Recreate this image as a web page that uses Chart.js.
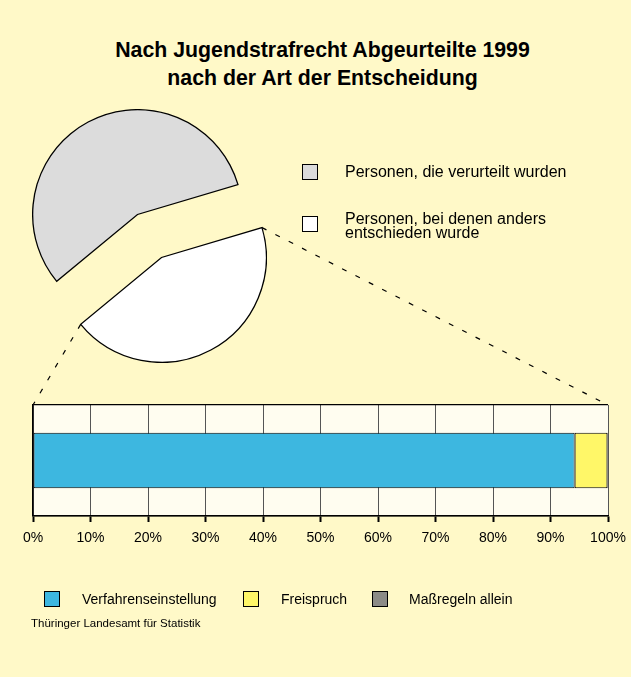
<!DOCTYPE html>
<html>
<head>
<meta charset="utf-8">
<script src="https://cdn.jsdelivr.net/npm/chart.js@4"></script>
<style>
  html, body { margin:0; padding:0; }
  body { width:631px; height:677px; background:#FFF9C8; position:relative; overflow:hidden;
         font-family:"Liberation Sans", Arial, sans-serif; color:#000; }
  .abs { position:absolute; }
  #title { left:0; width:645px; top:36px; text-align:center; font-weight:bold; font-size:21.3px; line-height:28px; }
  .sq { position:absolute; width:14px; height:14px; border:1px solid #000; }
  .lt { position:absolute; font-size:14px; line-height:15px; white-space:nowrap; }
  .plt { position:absolute; font-size:16px; line-height:13.5px; white-space:nowrap; }
  #source { left:31px; top:617px; font-size:11.5px; }
</style>
</head>
<body>
<div id="title" class="abs">Nach Jugendstrafrecht Abgeurteilte 1999<br>nach der Art der Entscheidung</div>
<canvas id="lines" class="abs" width="631" height="677" style="left:0;top:0"></canvas>
<canvas id="pieA" class="abs" width="211" height="211" style="left:32px;top:109px"></canvas>
<canvas id="pieB" class="abs" width="211" height="211" style="left:56px;top:152px"></canvas>
<canvas id="bar" class="abs" width="660" height="170" style="left:0;top:390px"></canvas>
<div id="pieLegend"></div>
<div id="barLegend"></div>
<div id="source" class="abs">Thüringer Landesamt für Statistik</div>
<script>
// ---- data ----
const pieLabels = ["Personen, die verurteilt wurden", ["Personen, bei denen anders", "entschieden wurde"]];
const pieValues = [56.4, 43.6];
const pieColors = ["#DCDCDC", "#FFFFFF"];

const barCategories = [""];
const barSeriesNames = ["Verfahrenseinstellung", "Freispruch", "Maßregeln allein"];
const verfahrenseinstellung = [94.2];
const freispruch = [5.7];
const massregelnAllein = [0.1];
const barColors = ["#3DB7E0", "#FFF768", "#8C8B87"];
const xTickValues = [0, 10, 20, 30, 40, 50, 60, 70, 80, 90, 100];

const FONT = "'Liberation Sans', Arial, sans-serif";
Chart.defaults.font.family = FONT;
Chart.defaults.color = "#000";
Chart.defaults.animation = false;

// ---- pie: two overlaid charts, second one exploded ----
function makePie(id, visibleIndex) {
  return new Chart(document.getElementById(id), {
    type: "pie",
    data: {
      labels: pieLabels,
      datasets: [{
        data: pieValues,
        backgroundColor: pieColors.map((c, i) => i === visibleIndex ? c : "rgba(0,0,0,0)"),
        borderColor: pieColors.map((c, i) => i === visibleIndex ? "#000" : "rgba(0,0,0,0)"),
        borderWidth: pieColors.map((c, i) => i === visibleIndex ? 1.3 : 0),
        borderJoinStyle: "miter"
      }]
    },
    options: {
      responsive: false,
      rotation: 230.4,
      events: [],
      layout: { padding: 0 },
      plugins: { legend: { display: false }, tooltip: { enabled: false } }
    }
  });
}
const pieA = makePie("pieA", 0);
const pieB = makePie("pieB", 1);

// ---- bar chart ----
const plotBg = {
  id: "plotBg",
  beforeDraw(chart) {
    const { ctx, chartArea: a } = chart;
    ctx.save();
    ctx.fillStyle = "#FFFDF0";
    ctx.fillRect(a.left, a.top, a.right - a.left, a.bottom - a.top);
    ctx.restore();
  }
};
const barSeries = [verfahrenseinstellung, freispruch, massregelnAllein];
const bar = new Chart(document.getElementById("bar"), {
  type: "bar",
  data: {
    labels: barCategories,
    datasets: barSeries.map((d, i) => ({
      label: barSeriesNames[i],
      data: d,
      backgroundColor: barColors[i],
      borderColor: "#000",
      borderWidth: 1,
      borderSkipped: false,
      barPercentage: 0.5,
      categoryPercentage: 1
    }))
  },
  options: {
    indexAxis: "y",
    responsive: false,
    events: [],
    layout: { padding: { left: 33, right: 52, top: 15, bottom: 0 } },
    plugins: { legend: { display: false }, tooltip: { enabled: false } },
    scales: {
      x: {
        stacked: true, min: 0, max: 100,
        afterBuildTicks(s) { s.ticks = xTickValues.map(v => ({ value: v })); },
        afterFit(s) { s.height = 44; },
        ticks: { callback: v => v + "%", font: { size: 14, family: FONT }, color: "#000", padding: 8, maxRotation: 0, autoSkip: false },
        grid: { color: "#555", lineWidth: 1, tickColor: "#000", tickWidth: 2, tickLength: 6 },
        border: { color: "#000", width: 1.5 }
      },
      y: {
        stacked: true,
        afterFit(s) { s.width = 0; },
        ticks: { display: false },
        grid: { color: "#000", lineWidth: 1.3, drawTicks: false },
        border: { color: "#000", width: 1.5 }
      }
    }
  },
  plugins: [plotBg]
});

// ---- connector dashed lines from exploded slice to bar ----
(function () {
  const arc = pieB.getDatasetMeta(0).data[1];
  const pc = document.getElementById("pieB");
  const bc = document.getElementById("bar");
  const ox = pc.offsetLeft, oy = pc.offsetTop;
  const r = arc.outerRadius;
  const p1 = [ox + arc.x + r * Math.cos(arc.startAngle), oy + arc.y + r * Math.sin(arc.startAngle)];
  const p2 = [ox + arc.x + r * Math.cos(arc.endAngle), oy + arc.y + r * Math.sin(arc.endAngle)];
  const a = bar.chartArea;
  const c1 = [bc.offsetLeft + a.right, bc.offsetTop + a.top];
  const c2 = [bc.offsetLeft + a.left, bc.offsetTop + a.top];
  const ctx = document.getElementById("lines").getContext("2d");
  ctx.strokeStyle = "#000";
  ctx.lineWidth = 1.2;
  ctx.setLineDash([5, 10]);
  ctx.beginPath(); ctx.moveTo(p1[0], p1[1]); ctx.lineTo(c1[0], c1[1]); ctx.stroke();
  ctx.beginPath(); ctx.moveTo(p2[0], p2[1]); ctx.lineTo(c2[0], c2[1]); ctx.stroke();
})();

// ---- HTML legends ----
(function () {
  const pl = document.getElementById("pieLegend");
  const pieSqTop = [164, 216];
  const pieTxtTop = [164.5, 212];
  pieLabels.forEach((lab, i) => {
    const sq = document.createElement("div");
    sq.className = "sq";
    sq.style.left = "302px"; sq.style.top = pieSqTop[i] + "px";
    sq.style.background = pieColors[i];
    pl.appendChild(sq);
    const t = document.createElement("div");
    t.className = "plt";
    t.style.left = "345px"; t.style.top = pieTxtTop[i] + "px";
    t.innerHTML = Array.isArray(lab) ? lab.join("<br>") : lab;
    pl.appendChild(t);
  });
  const bl = document.getElementById("barLegend");
  const sqLeft = [44, 243, 372];
  const txLeft = [82, 281, 409];
  barSeriesNames.forEach((name, i) => {
    const sq = document.createElement("div");
    sq.className = "sq";
    sq.style.left = sqLeft[i] + "px"; sq.style.top = "591px";
    sq.style.background = barColors[i];
    bl.appendChild(sq);
    const t = document.createElement("div");
    t.className = "lt";
    t.style.left = txLeft[i] + "px"; t.style.top = "592px";
    t.textContent = name;
    bl.appendChild(t);
  });
})();
</script>
</body>
</html>
